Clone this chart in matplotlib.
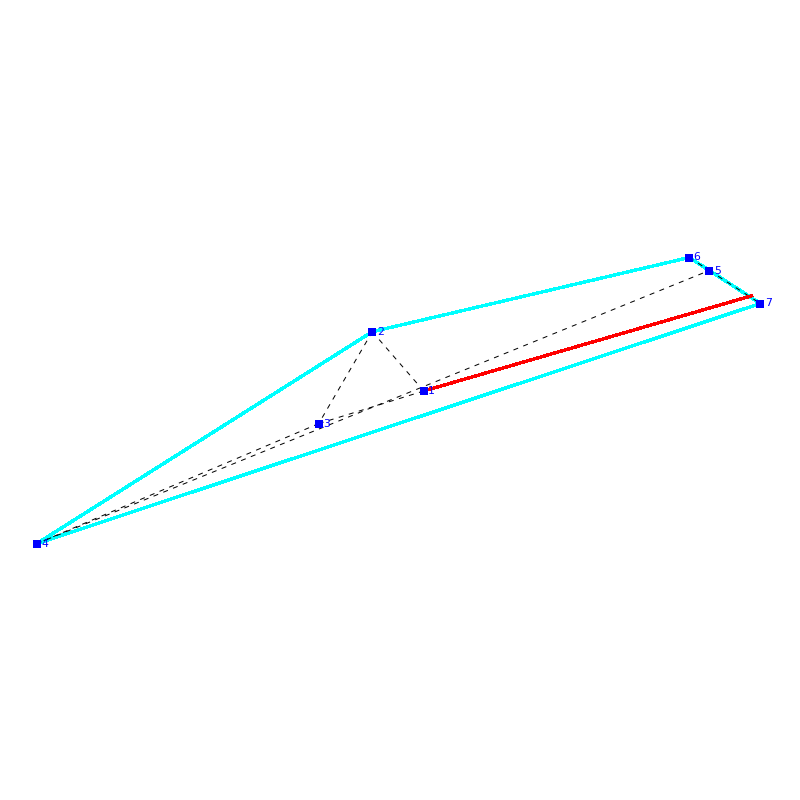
import matplotlib
matplotlib.use("Agg")
import matplotlib.pyplot as plt

labels = ["1", "2", "3", "4", "5", "6", "7"]
xs = [423.7, 372.3, 318.7, 36.8, 709.3, 689.3, 760.3]
ys = [391, 331.7, 423.6, 543.6, 270.5, 257.5, 303.5]

cyan_edges = [(4, 2), (2, 6), (6, 7), (7, 4)]
dashed_edges = [(1, 2), (2, 3), (3, 1), (3, 4), (4, 5), (6, 5), (5, 7)]
red_x = [423.7, 752.7]
red_y = [391, 295.5]

fig = plt.figure(figsize=(8, 8), dpi=100)
ax = fig.add_axes([0, 0, 1, 1])
ax.set_xlim(0, 800)
ax.set_ylim(800, 0)
ax.axis("off")

for a, b in cyan_edges:
    ax.plot([xs[a-1], xs[b-1]], [ys[a-1], ys[b-1]], color="#00ffff", lw=1.7,
            solid_capstyle="butt", antialiased=False, zorder=1)
for a, b in dashed_edges:
    ax.plot([xs[a-1], xs[b-1]], [ys[a-1], ys[b-1]], color="black", lw=0.72,
            dashes=(5, 5.5), dash_capstyle="butt", antialiased=True, zorder=2)
ax.plot(red_x, red_y, color="#ff0000", lw=1.7, solid_capstyle="butt",
        antialiased=False, zorder=3)
ax.plot(xs, ys, ls="none", marker="s", ms=5.2, mfc="#0000ff", mec="#0000ff",
        mew=0, zorder=4)
for x, y, s in zip(xs, ys, labels):
    ax.annotate(s, (x, y), xytext=(3.2, 0), textcoords="offset points", color="#0000ff",
                fontsize=7.8, va="center", ha="left", zorder=5)

fig.savefig("out.png", dpi=100, facecolor="white")
